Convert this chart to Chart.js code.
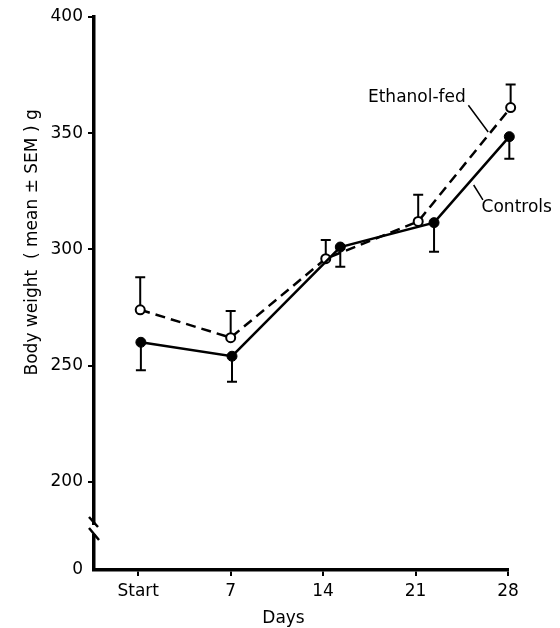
<!DOCTYPE html>
<html>
<head>
<meta charset="utf-8">
<script src="https://cdn.jsdelivr.net/npm/chart.js@4/dist/chart.umd.min.js"></script>
<style>
  html, body { margin: 0; padding: 0; background: #fff; }
  #wrap { width: 560px; height: 628px; position: relative; }
</style>
</head>
<body>
<div id="wrap"><canvas id="chart"></canvas></div>
<script>
// x categories (days) and their tick labels
const dayTicks = [0, 7, 14, 21, 28];
const dayLabels = ['Start', '7', '14', '21', '28'];

// y ticks; the lowest tick stands for the broken axis origin
const yTickValues = [162, 200, 250, 300, 350, 400];
const yTickLabels = ['0', '200', '250', '300', '350', '400'];

// Ethanol-fed (open circles, dashed), error bar drawn upward
const ethanolDays = [0.15, 7, 14.2, 21.2, 28.2];
const ethanolMean = [274, 262, 296, 312, 361];
const ethanolUpper = [288, 273.5, 304, 323.5, 371];

// Controls (filled circles, solid), error bar drawn downward
const controlDays = [0.2, 7.1, 15.3, 22.4, 28.1];
const controlMean = [260, 254, 301, 311.5, 348.5];
const controlLower = [248, 243, 292.5, 299, 339];

const FONT = '"DejaVu Sans", sans-serif';
const SIZE = 17;

/**
 * Error bars: one-sided whiskers with caps
 */
const errorBars = {
    id: 'errorBars',
    beforeDatasetsDraw(chart) {
        const { ctx, scales: { x, y } } = chart;
        ctx.save();
        ctx.strokeStyle = '#000';
        ctx.lineWidth = 2;
        const draw = (days, from, to) => {
            days.forEach((d, i) => {
                const px = x.getPixelForValue(d);
                const y0 = y.getPixelForValue(from[i]);
                const y1 = y.getPixelForValue(to[i]);
                ctx.beginPath();
                ctx.moveTo(px, y0);
                ctx.lineTo(px, y1);
                ctx.moveTo(px - 5, y1);
                ctx.lineTo(px + 5, y1);
                ctx.stroke();
            });
        };
        draw(ethanolDays, ethanolMean, ethanolUpper);
        draw(controlDays, controlMean, controlLower);
        ctx.restore();
    }
};

/**
 * Axis break, axis titles and series labels
 */
const decorations = {
    id: 'decorations',
    afterDraw(chart) {
        const { ctx, chartArea: a, scales: { x, y } } = chart;
        ctx.save();

        // break in the y axis
        ctx.fillStyle = '#fff';
        ctx.fillRect(a.left - 3, a.bottom - 45, 6, 9);
        ctx.strokeStyle = '#000';
        ctx.lineWidth = 2.5;
        ctx.beginPath();
        ctx.moveTo(a.left - 5, a.bottom - 53);
        ctx.lineTo(a.left + 4, a.bottom - 43);
        ctx.moveTo(a.left - 5, a.bottom - 42);
        ctx.lineTo(a.left + 5, a.bottom - 30);
        ctx.stroke();

        ctx.fillStyle = '#000';
        ctx.font = SIZE + 'px ' + FONT;
        ctx.textAlign = 'center';
        ctx.textBaseline = 'middle';

        // x title
        ctx.fillText('Days', x.getPixelForValue(11), 619);

        // y title
        ctx.save();
        ctx.translate(33, y.getPixelForValue(303));
        ctx.rotate(-Math.PI / 2);
        ctx.fillText('Body weight  ( mean ± SEM ) g', 0, 0);
        ctx.restore();

        // series labels with leader lines
        ctx.fillText('Ethanol-fed', x.getPixelForValue(21.1), y.getPixelForValue(365.5));
        ctx.textAlign = 'left';
        ctx.fillText('Controls', x.getPixelForValue(26.0), y.getPixelForValue(318));

        ctx.lineWidth = 1.5;
        ctx.beginPath();
        ctx.moveTo(x.getPixelForValue(25.0), y.getPixelForValue(362));
        ctx.lineTo(x.getPixelForValue(26.5), y.getPixelForValue(350.5));
        ctx.moveTo(x.getPixelForValue(25.4), y.getPixelForValue(327.7));
        ctx.lineTo(x.getPixelForValue(26.1), y.getPixelForValue(321.3));
        ctx.stroke();

        ctx.restore();
    }
};

const toPoints = (days, vals) => days.map((d, i) => ({ x: d, y: vals[i] }));

new Chart(document.getElementById('chart'), {
    type: 'line',
    data: {
        datasets: [
            {
                label: 'Controls',
                data: toPoints(controlDays, controlMean),
                borderColor: '#000',
                borderWidth: 2.5,
                pointRadius: 5,
                pointBackgroundColor: '#000',
                pointBorderColor: '#000',
                pointBorderWidth: 1,
                tension: 0,
                clip: false
            },
            {
                label: 'Ethanol-fed',
                data: toPoints(ethanolDays, ethanolMean),
                borderColor: '#000',
                borderWidth: 2.5,
                borderDash: [10, 6],
                pointRadius: 4.5,
                pointBackgroundColor: '#fff',
                pointBorderColor: '#000',
                pointBorderWidth: 2,
                tension: 0,
                clip: false
            }
        ]
    },
    options: {
        responsive: true,
        maintainAspectRatio: false,
        animation: false,
        layout: { padding: { left: 0, right: 52, top: 17, bottom: 0 } },
        plugins: {
            legend: { display: false },
            tooltip: { enabled: false }
        },
        scales: {
            x: {
                type: 'linear',
                min: -3.35,
                max: 28,
                afterBuildTicks: s => { s.ticks = dayTicks.map(v => ({ value: v })); },
                afterFit: s => { s.height = 58; },
                ticks: {
                    color: '#000',
                    font: { family: FONT, size: SIZE },
                    padding: 5,
                    maxRotation: 0,
                    callback: (v, i) => dayLabels[i]
                },
                grid: {
                    drawOnChartArea: false,
                    drawTicks: true,
                    tickLength: 6,
                    color: '#000',
                    lineWidth: 2
                },
                border: { display: true, color: '#000', width: 3.5 }
            },
            y: {
                type: 'linear',
                min: 162,
                max: 400,
                afterBuildTicks: s => { s.ticks = yTickValues.map(v => ({ value: v })); },
                afterFit: s => { s.width = 94; },
                ticks: {
                    color: '#000',
                    font: { family: FONT, size: SIZE },
                    padding: 5,
                    callback: (v, i) => yTickLabels[i]
                },
                grid: {
                    drawOnChartArea: false,
                    drawTicks: true,
                    tickLength: 6,
                    color: c => (c.tick && c.tick.value === 162 ? 'rgba(0,0,0,0)' : '#000'),
                    lineWidth: 2
                },
                border: { display: true, color: '#000', width: 3.5 }
            }
        }
    },
    plugins: [errorBars, decorations]
});
</script>
</body>
</html>
